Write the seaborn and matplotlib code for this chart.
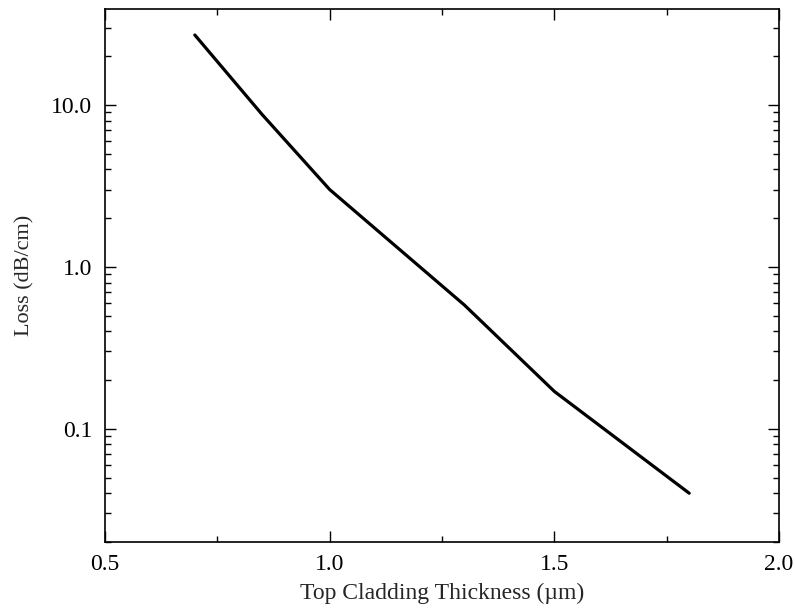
import matplotlib
matplotlib.use("Agg")
import matplotlib.pyplot as plt
import seaborn as sns
import pandas as pd
from matplotlib.ticker import LogLocator, FixedLocator, NullFormatter, FixedFormatter

thickness = [0.7, 0.85, 1.0, 1.3, 1.5, 1.8]
loss = [27.0, 8.7, 3.0, 0.58, 0.17, 0.040]
x_ticks = [0.5, 1.0, 1.5, 2.0]
x_tick_labels = ["0.5", "1.0", "1.5", "2.0"]
y_ticks = [0.1, 1.0, 10.0]
y_tick_labels = ["0.1", "1.0", "10.0"]

sns.set_style("ticks")
plt.rcParams['font.family'] = ['Liberation Serif', 'DejaVu Serif']

df = pd.DataFrame({"thickness": thickness, "loss": loss})

fig = plt.figure(figsize=(7.95, 6.08), dpi=100)
ax = fig.add_axes([0.132, 0.1086, 0.848, 0.8764])
sns.lineplot(data=df, x="thickness", y="loss", ax=ax, color="black", linewidth=2.3, sort=False)
ax.set_yscale("log")
ax.set_xlim(0.5, 2.0)
ax.set_ylim(0.02, 39)

ax.xaxis.set_major_locator(FixedLocator(x_ticks))
ax.xaxis.set_major_formatter(FixedFormatter(x_tick_labels))
ax.xaxis.set_minor_locator(FixedLocator([0.75, 1.25, 1.75]))
ax.yaxis.set_major_locator(FixedLocator(y_ticks))
ax.yaxis.set_major_formatter(FixedFormatter(y_tick_labels))
ax.yaxis.set_minor_locator(LogLocator(base=10, subs=range(2, 10)))
ax.yaxis.set_minor_formatter(NullFormatter())

ax.tick_params(which="both", direction="in", top=True, right=True, colors="black",
               labelsize=17, width=1.0)
ax.tick_params(which="major", length=8, pad=9)
ax.tick_params(which="minor", length=4)
for s in ax.spines.values():
    s.set_visible(True)
    s.set_linewidth(1.2)
    s.set_color("black")

ax.set_xlabel("Top Cladding Thickness (\u00b5m)", fontsize=17, labelpad=5)
ax.set_ylabel("Loss (dB/cm)", fontsize=16, labelpad=12)

fig.savefig("out.png", dpi=100)
